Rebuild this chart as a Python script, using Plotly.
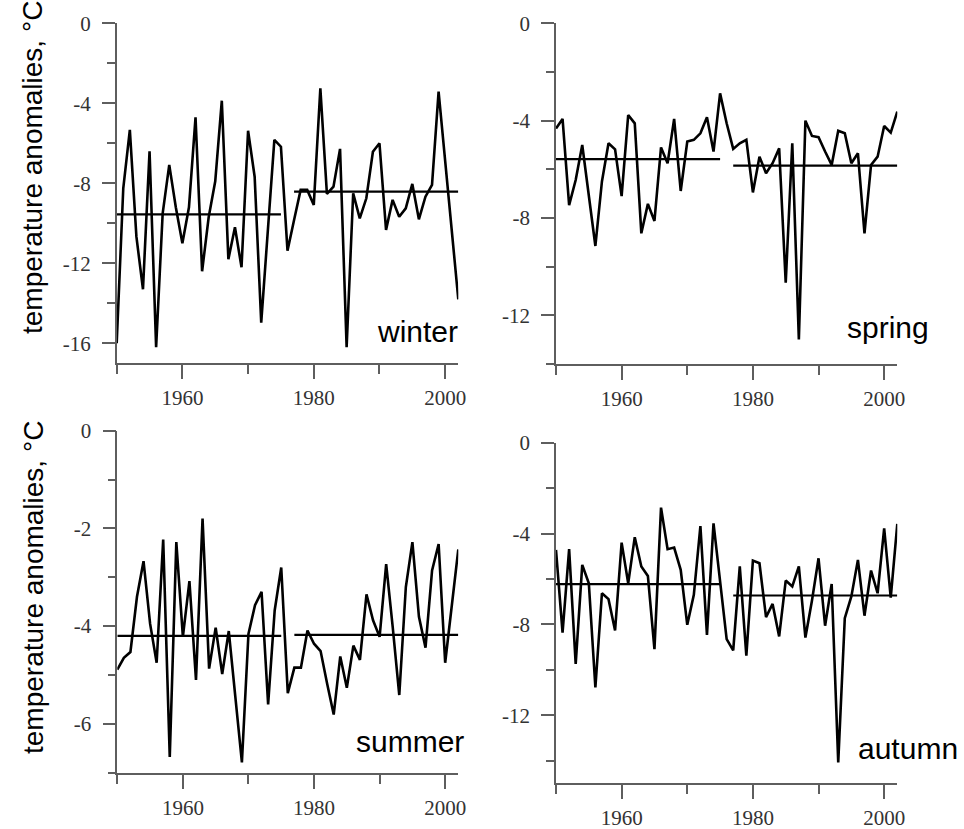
import plotly.graph_objects as go

W, H = 964, 829

# ---------------- data ----------------
years = list(range(1950, 2003))

winter = [-16.0, -8.25, -5.33, -10.67, -13.3, -6.4, -16.2, -9.5, -7.08, -9.2,
          -11.0, -9.2, -4.7, -12.4, -9.7, -7.9, -3.87, -11.8, -10.2, -12.2,
          -5.37, -7.67, -14.97, -10.2, -5.83, -6.17, -11.37, -9.83, -8.33, -8.33,
          -9.08, -3.25, -8.53, -8.17, -6.28, -16.2, -8.5, -9.75, -8.75, -6.42,
          -6.0, -10.33, -8.83, -9.67, -9.25, -8.03, -9.8, -8.67, -8.08, -3.42,
          -6.9, -10.3, -13.8]

spring = [-4.32, -3.93, -7.47, -6.44, -5.0, -6.99, -9.15, -6.5, -4.93, -5.18,
          -7.1, -3.77, -4.11, -8.63, -7.42, -8.12, -5.1, -5.75, -3.93, -6.89,
          -4.86, -4.79, -4.52, -3.86, -5.27, -2.88, -4.11, -5.16, -4.93, -4.79,
          -6.95, -5.48, -6.16, -5.75, -5.14, -10.66, -4.93, -12.99, -4.0, -4.63,
          -4.68, -5.27, -5.82, -4.42, -4.52, -5.75, -5.34, -8.63, -5.82, -5.48,
          -4.22, -4.49, -3.63]

summer = [-4.89, -4.65, -4.53, -3.4, -2.67, -3.95, -4.75, -2.23, -6.68, -2.28,
          -4.22, -3.08, -5.1, -1.8, -4.87, -4.03, -4.98, -4.1, -5.45, -6.79,
          -4.16, -3.57, -3.3, -5.6, -3.68, -2.8, -5.37, -4.85, -4.85, -4.09,
          -4.36, -4.51, -5.18, -5.81, -4.62, -5.26, -4.4, -4.69, -3.35, -3.88,
          -4.22, -2.73, -4.02, -5.41, -3.2, -2.28, -3.81, -4.44, -2.86, -2.32,
          -4.75, -3.64, -2.43]

autumn = [-4.72, -8.36, -4.69, -9.74, -5.38, -6.19, -10.78, -6.63, -6.89, -8.27,
          -4.4, -6.19, -4.16, -5.45, -5.87, -9.09, -2.86, -4.69, -4.62, -5.6,
          -8.02, -6.7, -3.67, -8.46, -3.55, -6.07, -8.65, -9.15, -5.45, -9.38,
          -5.19, -5.31, -7.68, -7.1, -8.53, -6.07, -6.33, -5.45, -8.58, -6.95,
          -5.09, -8.06, -6.22, -14.08, -7.73, -6.77, -5.16, -7.62, -5.63, -6.63,
          -3.77, -6.82, -3.58]

period1 = [1950, 1975]
period2 = [1977, 2002]
winter_means = [-9.55, -8.42]
spring_means = [-5.58, -5.85]
summer_means = [-4.2, -4.18]
autumn_means = [-6.23, -6.73]

x_major = [1960, 1980, 2000]
x_minor = [1950, 1970, 1990]
winter_ymajor = [0, -4, -8, -12, -16]
winter_yminor = [-2, -6, -10, -14]
spring_ymajor = [0, -4, -8, -12]
spring_yminor = [-2, -6, -10, -14]
summer_ymajor = [0, -2, -4, -6]
summer_yminor = [-1, -3, -5, -7]
autumn_ymajor = [0, -4, -8, -12]
autumn_yminor = [-2, -6, -10, -14]

season_labels = ["winter", "spring", "summer", "autumn"]
y_title = "temperature anomalies, °C"

# ---------------- layout helpers ----------------
def fx(px):
    return px / W

def fy(py):
    return 1 - py / H

panels = [
    dict(vals=winter, means=winter_means, box=(116.7, 458.3, 23.3, 363.3), yr=[-17, 0],
         ymaj=winter_ymajor, ymin=winter_yminor),
    dict(vals=spring, means=spring_means, box=(556.0, 897.3, 23.3, 364.0), yr=[-14, 0],
         ymaj=spring_ymajor, ymin=spring_yminor),
    dict(vals=summer, means=summer_means, box=(117.3, 458.3, 430.7, 772.7), yr=[-7, 0],
         ymaj=summer_ymajor, ymin=summer_yminor),
    dict(vals=autumn, means=autumn_means, box=(556.0, 897.3, 442.7, 783.3), yr=[-15, 0],
         ymaj=autumn_ymajor, ymin=autumn_yminor),
]

AXC = "#5e5e5e"
TICKFONT = dict(family="Liberation Serif, Times New Roman, serif", size=21, color="#333333")

fig = go.Figure()
layout = dict(width=W, height=H, margin=dict(l=0, r=0, t=0, b=0, autoexpand=False),
              paper_bgcolor="white", plot_bgcolor="white", showlegend=False)

for i, p in enumerate(panels):
    k = "" if i == 0 else str(i + 1)
    xa, ya = "x" + k, "y" + k
    fig.add_trace(go.Scatter(x=years, y=p["vals"], mode="lines", xaxis=xa, yaxis=ya,
                             line=dict(color="black", width=2.6), hoverinfo="skip"))
    fig.add_trace(go.Scatter(x=period1, y=[p["means"][0]] * 2, mode="lines", xaxis=xa, yaxis=ya,
                             line=dict(color="black", width=2.2), hoverinfo="skip"))
    fig.add_trace(go.Scatter(x=period2, y=[p["means"][1]] * 2, mode="lines", xaxis=xa, yaxis=ya,
                             line=dict(color="black", width=2.2), hoverinfo="skip"))
    x0, x1, y0, y1 = p["box"]
    layout["xaxis" + k] = dict(
        domain=[fx(x0), fx(x1)], range=[1950, 2002], anchor=ya, automargin=False,
        showline=True, linecolor=AXC, linewidth=1.6, showgrid=False, zeroline=False,
        ticks="outside", tickmode="array", tickvals=x_major, ticktext=[str(v) for v in x_major],
        ticklen=14, tickwidth=1.6, tickcolor=AXC, tickfont=TICKFONT, ticklabelstandoff=1,
        minor=dict(tickmode="array", tickvals=x_minor, ticks="outside", ticklen=9,
                   tickwidth=1.6, tickcolor=AXC, showgrid=False),
    )
    layout["yaxis" + k] = dict(
        domain=[fy(y1), fy(y0)], range=p["yr"], anchor=xa, automargin=False,
        showline=True, linecolor=AXC, linewidth=1.6, showgrid=False, zeroline=False,
        ticks="outside", tickmode="array", tickvals=p["ymaj"],
        ticktext=[str(v) for v in p["ymaj"]],
        ticklen=13, tickwidth=1.6, tickcolor=AXC, tickfont=TICKFONT, ticklabelstandoff=7,
        minor=dict(tickmode="array", tickvals=p["ymin"], ticks="outside", ticklen=8,
                   tickwidth=1.6, tickcolor=AXC, showgrid=False),
    )

LABFONT = dict(family="Liberation Sans, Arial, sans-serif", size=30, color="black")
annotations = [
    dict(text=season_labels[0], x=fx(460), y=fy(331), xanchor="right", yanchor="middle"),
    dict(text=season_labels[1], x=fx(931), y=fy(327), xanchor="right", yanchor="middle"),
    dict(text=season_labels[2], x=fx(466), y=fy(741), xanchor="right", yanchor="middle"),
    dict(text=season_labels[3], x=fx(856), y=fy(748), xanchor="left", yanchor="middle"),
]
for a in annotations:
    a.update(xref="paper", yref="paper", showarrow=False, font=LABFONT)

TFONT = dict(family="Liberation Sans, Arial, sans-serif", size=28, color="black")
for cy in (168, 588):
    annotations.append(dict(text=y_title, x=fx(33), y=fy(cy), xref="paper", yref="paper",
                            xanchor="center", yanchor="middle", textangle=-90,
                            showarrow=False, font=TFONT))

layout["annotations"] = annotations
fig.update_layout(**layout)
fig.write_html("out.html", config={"displayModeBar": False},
               post_script="document.body.style.margin='0';document.body.style.overflow='hidden';")
